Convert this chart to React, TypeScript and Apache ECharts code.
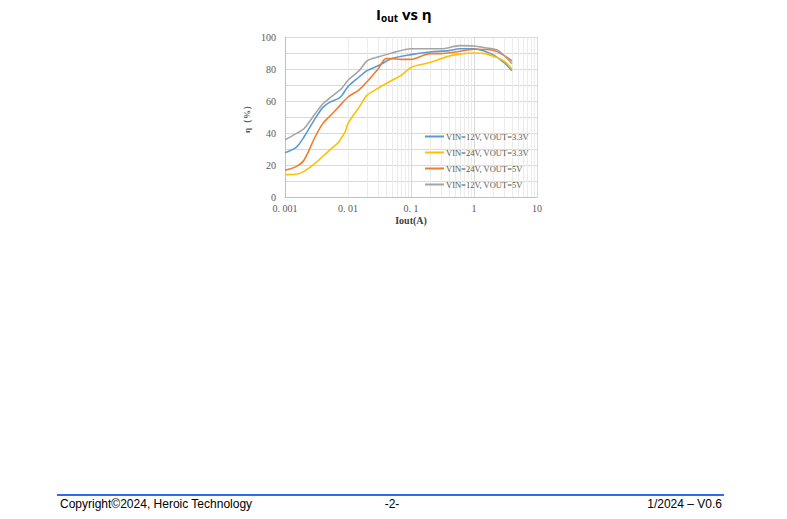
import React, { useEffect, useRef } from "react";
import * as echarts from "echarts";

const seriesNames = [
  "VIN=12V, VOUT=3.3V",
  "VIN=24V, VOUT=3.3V",
  "VIN=24V, VOUT=5V",
  "VIN=12V, VOUT=5V",
];
const colors = ["#5B9BD5", "#FFC000", "#ED7D31", "#A5A5A5"];

const blueX = [0.001, 0.0015, 0.002, 0.003, 0.004, 0.005, 0.007, 0.008, 0.01, 0.015, 0.02, 0.03, 0.05, 0.1, 0.2, 0.4, 0.6, 1, 1.5, 2, 3, 4];
const blueY = [27.7, 31, 37.5, 49, 56, 59, 61.5, 63.5, 69, 75, 79, 82, 86.5, 89, 90.6, 91.5, 92.7, 92.7, 91, 89, 84, 79];

const yellowX = [0.001, 0.0015, 0.002, 0.003, 0.005, 0.007, 0.008, 0.009, 0.01, 0.015, 0.02, 0.03, 0.05, 0.07, 0.1, 0.2, 0.3, 0.5, 1, 1.5, 2, 3, 4];
const yellowY = [14, 14.2, 16, 21, 29, 34, 37.5, 40.6, 46, 56, 63.5, 68, 73, 76, 81, 84, 86.5, 89, 90, 89.6, 88, 85, 80];

const orangeX = [0.001, 0.0015, 0.002, 0.003, 0.004, 0.005, 0.007, 0.01, 0.015, 0.02, 0.03, 0.04, 0.05, 0.07, 0.1, 0.2, 0.3, 0.5, 1, 2, 3, 4];
const orangeY = [16.7, 19, 23, 37.5, 46, 50, 56, 62.5, 67, 72, 80, 86.5, 86.5, 86, 86, 89.6, 89.6, 90.6, 92.3, 91.7, 88.5, 85];

const grayX = [0.001, 0.0015, 0.002, 0.003, 0.004, 0.005, 0.007, 0.008, 0.01, 0.015, 0.02, 0.03, 0.05, 0.1, 0.3, 0.6, 1, 1.5, 2.3, 3, 4];
const grayY = [35.8, 39.6, 42.7, 52, 58.3, 61.5, 66, 68, 73, 79, 85, 87.5, 90, 92.7, 92.7, 94.6, 94.4, 93.3, 92, 88.5, 83.3];

const xTickLabels: Record<string, string> = {
  "0.001": "0. 001",
  "0.01": "0. 01",
  "0.1": "0. 1",
  "1": "1",
  "10": "10",
};

const decades = [0.001, 0.01, 0.1, 1];
const multipliers = [2, 3, 4, 5, 6, 7, 8, 9];

function zip(xs: number[], ys: number[]) {
  return xs.map((x, i) => [x, ys[i]]);
}

export default function App() {
  const ref = useRef<HTMLDivElement>(null);
  useEffect(() => {
    if (!ref.current) return;
    const chart = echarts.init(ref.current, undefined, { renderer: "svg" });
    const minorLines: any[] = [];
    decades.forEach((d) =>
      multipliers.forEach((m) => minorLines.push({ xAxis: +(d * m).toPrecision(3) }))
    );
    const data = [zip(blueX, blueY), zip(yellowX, yellowY), zip(orangeX, orangeY), zip(grayX, grayY)];
    const serif = "'Liberation Serif', 'DejaVu Serif', serif";
    const option: any = {
      animation: false,
      backgroundColor: "#ffffff",
      grid: { left: 285, right: 250, top: 37, bottom: 322, containLabel: false },
      xAxis: {
        type: "log",
        logBase: 10,
        min: 0.001,
        max: 10,
        axisLine: { show: true, lineStyle: { color: "#bfbfbf", width: 1 } },
        axisTick: { show: false },
        axisLabel: {
          color: "#595959",
          fontFamily: serif,
          fontSize: 10,
          margin: 6,
          formatter: (v: number) => {
            const k = String(+v.toPrecision(3));
            return xTickLabels[k] ?? "";
          },
        },
        splitLine: { show: true, lineStyle: { color: "#d9d9d9", width: 1 } },
      },
      yAxis: {
        type: "value",
        min: 0,
        max: 100,
        interval: 20,
        axisLine: { show: true, lineStyle: { color: "#bfbfbf", width: 1 } },
        axisTick: { show: false },
        axisLabel: { color: "#595959", fontFamily: serif, fontSize: 10, margin: 9 },
        splitLine: { show: true, lineStyle: { color: "#d9d9d9", width: 1 } },
        minorTick: { show: false, splitNumber: 2 },
        minorSplitLine: { show: true, lineStyle: { color: "#d9d9d9", width: 1 } },
      },
      legend: {
        show: true,
        data: seriesNames,
        orient: "vertical",
        left: 420,
        top: 127,
        itemWidth: 19,
        itemHeight: 2,
        itemGap: 7,
        icon: "rect",
        textStyle: { color: "#595959", fontFamily: serif, fontSize: 8.5, padding: [0, 0, 0, -3] },
      },
      series: [
        {
          type: "line",
          data: [],
          silent: true,
          z: 1,
          markLine: {
            silent: true,
            z: 1,
            symbol: ["none", "none"],
            label: { show: false },
            lineStyle: { color: "#ebebeb", width: 1, type: "solid" },
            data: minorLines,
          },
        },
        ...seriesNames.map((name, i) => ({
          name,
          type: "line",
          data: data[i],
          smooth: 0.3,
          showSymbol: false,
          symbol: "none",
          z: 3 + i,
          lineStyle: { color: colors[i], width: 1.6 },
          itemStyle: { color: colors[i] },
        })),
      ],
      graphic: [
        {
          type: "text",
          left: 376,
          top: 6,
          style: {
            text: "{a|I}{b|out}{a| vs η}",
            rich: {
              a: { fontSize: 15, fontWeight: "bold", fontFamily: "'Open Sans', Arial, sans-serif", fill: "#000", verticalAlign: "bottom" },
              b: { fontSize: 10, fontWeight: "bold", fontFamily: "'Open Sans', Arial, sans-serif", fill: "#000", verticalAlign: "bottom", padding: [0, 0, -2, 0] },
            },
          },
        },
        {
          type: "text",
          x: 247,
          y: 117,
          rotation: Math.PI / 2,
          style: {
            text: "η（%）",
            fill: "#595959",
            font: "bold 9px 'Liberation Serif', serif",
            align: "center",
            verticalAlign: "middle",
          },
        },
        {
          type: "text",
          x: 411,
          y: 220,
          style: {
            text: "Iout(A)",
            fill: "#404040",
            font: "bold 10px 'Liberation Serif', serif",
            align: "center",
            verticalAlign: "middle",
          },
        },
        {
          type: "line",
          shape: { x1: 57, y1: 495, x2: 724, y2: 495 },
          style: { stroke: "#2F6BF0", lineWidth: 2 },
        },
        {
          type: "text",
          x: 60,
          y: 504,
          style: { text: "Copyright©2024, Heroic Technology", fill: "#000", font: "12px 'Liberation Sans', Arial, sans-serif", align: "left", verticalAlign: "middle" },
        },
        {
          type: "text",
          x: 392,
          y: 504,
          style: { text: "-2-", fill: "#000", font: "12px 'Liberation Sans', Arial, sans-serif", align: "center", verticalAlign: "middle" },
        },
        {
          type: "text",
          x: 722,
          y: 504,
          style: { text: "1/2024 – V0.6", fill: "#000", font: "12px 'Liberation Sans', Arial, sans-serif", align: "right", verticalAlign: "middle" },
        },
      ],
    };
    chart.setOption(option);
    return () => chart.dispose();
  }, []);
  return (
    <div
      ref={ref}
      style={{ position: "fixed", left: 0, top: 0, width: 787, height: 519, background: "#fff" }}
    />
  );
}
